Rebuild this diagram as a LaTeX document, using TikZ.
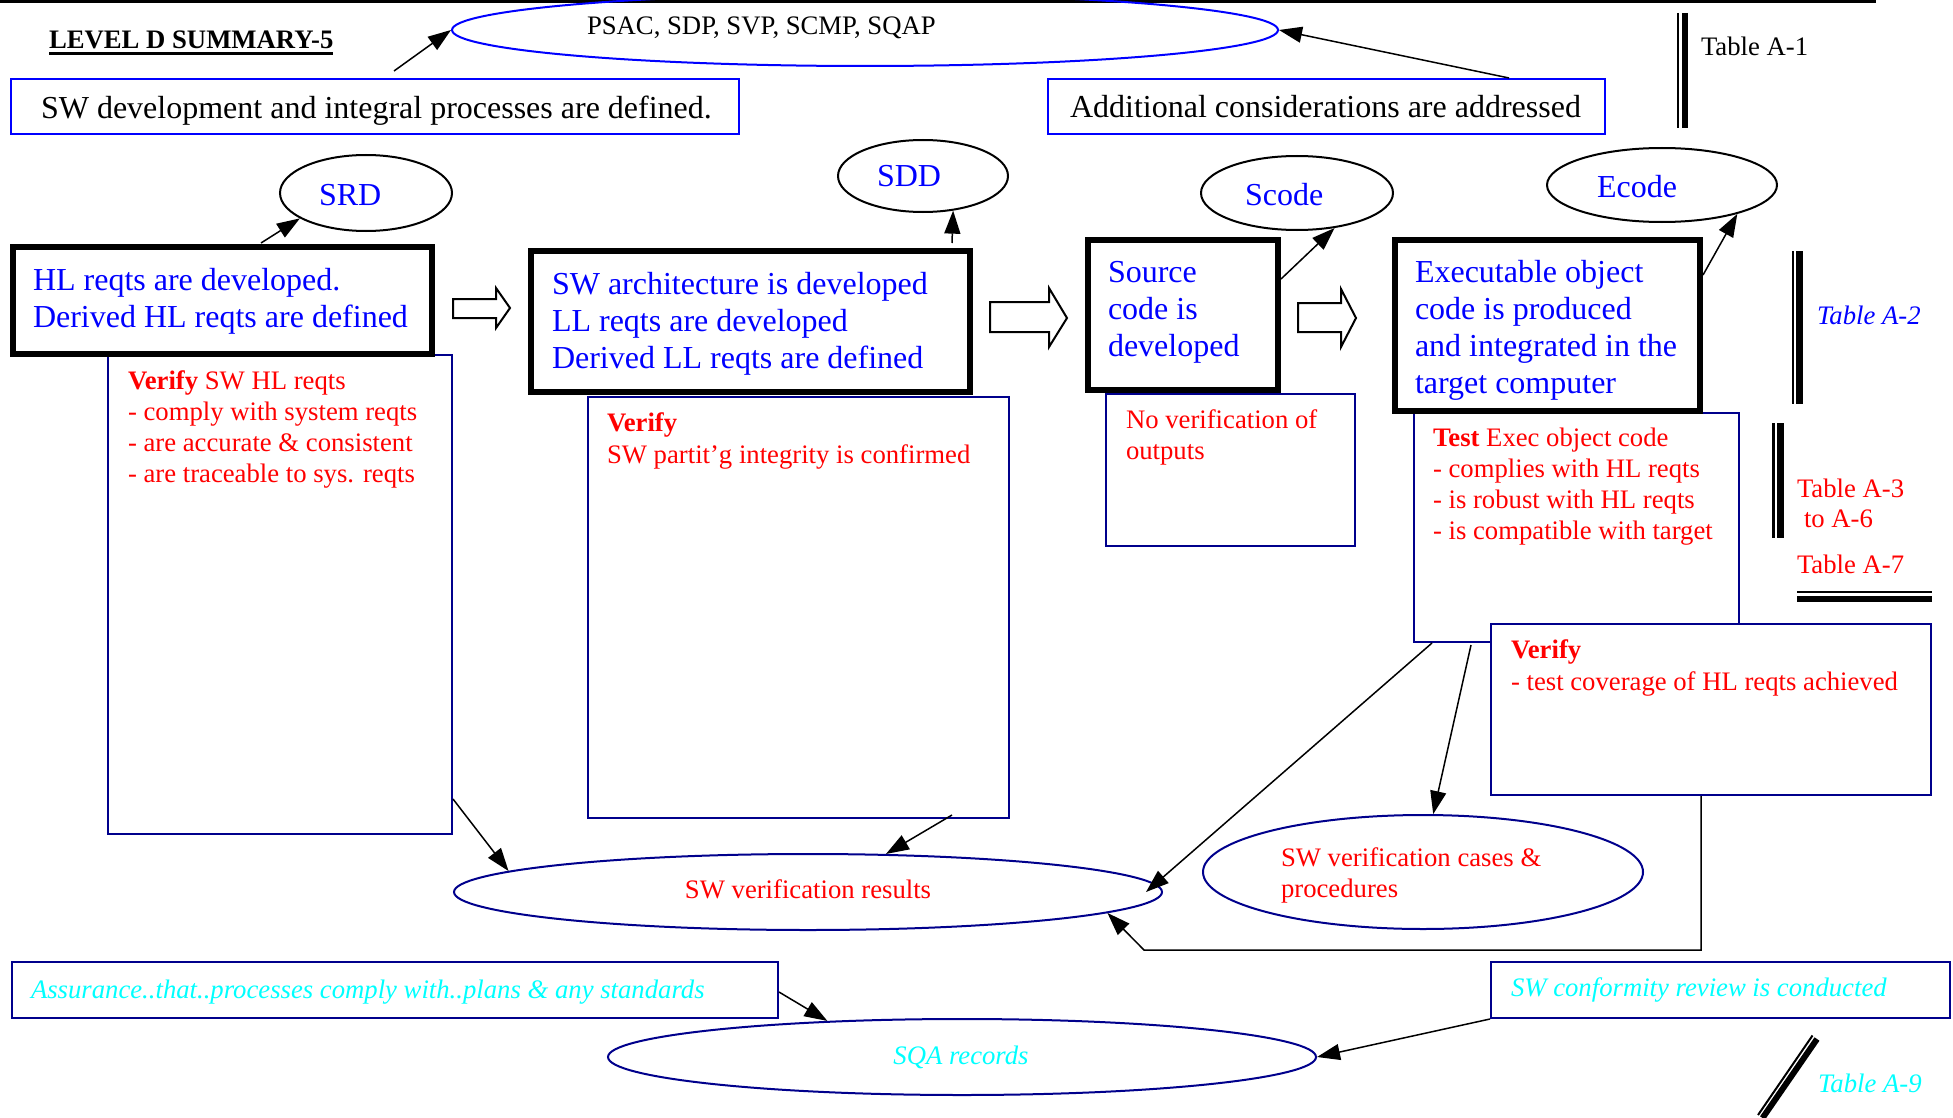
\documentclass[tikz,border=0pt]{standalone}
\usepackage{fontspec}
\setmainfont{Liberation Serif}
\usetikzlibrary{arrows.meta,shapes.geometric,calc}
\definecolor{pblue}{RGB}{0,0,255}
\definecolor{pnavy}{RGB}{0,0,140}
\definecolor{pred}{RGB}{255,0,0}
\definecolor{pcyan}{RGB}{0,255,255}
\newcommand\bigfs{\fontsize{32}{37}\selectfont}
\newcommand\smfs{\fontsize{26.7}{31}\selectfont}
\newcommand\bst{\rule{0pt}{30pt}}
\newcommand\sst{\rule{0pt}{25pt}}

\begin{document}
\begin{tikzpicture}[x=1pt,y=-1pt,
  stage/.style={draw=black,line width=6pt,rectangle,inner sep=0pt,anchor=north west},
  chkbox/.style={draw=pnavy,line width=2pt,rectangle,inner sep=0pt,anchor=north west},
  topbox/.style={draw=pblue,line width=2pt,rectangle,inner sep=0pt,anchor=north west},
  docoval/.style={ellipse,draw=black,line width=2pt,inner sep=0pt},
  recoval/.style={ellipse,draw=pnavy,line width=2pt,inner sep=0pt},
  lbl/.style={inner sep=0pt,outer sep=0pt,anchor=north west,align=left},
  one/.style={inner sep=0pt,outer sep=0pt,anchor=base west},
  conn/.style={line width=1.5pt,-{Triangle[length=23pt,width=16pt]}},
  blockarr/.style={draw=black,line width=2pt,fill=white,line join=miter},
]
\useasboundingbox (0,0) rectangle (1953,1118);

% heading rule and title
\draw[line width=3pt] (0,1.5) -- (1876,1.5);
\node[one,font=\smfs\bfseries] (title) at (49,49) {LEVEL D SUMMARY-5};
\draw[line width=2.5pt] ($(title.base west)+(0,4.5)$) -- ($(title.base east)+(0,4.5)$);

% planning
\node[ellipse,draw=pblue,line width=2pt,inner sep=0pt,minimum width=826pt,minimum height=72pt] (psac) at (865,30) {};
\node[one,font=\smfs] (psacT) at (587,35) {PSAC, SDP, SVP, SCMP, SQAP};
\node[topbox,minimum width=728pt,minimum height=55pt] (swdev) at (10,78) {};
\node[one,font=\bigfs] (swdevT) at (41,119) {SW development and integral processes are defined.};
\node[topbox,minimum width=557pt,minimum height=55pt] (addl) at (1047,78) {};
\node[one,font=\bigfs] (addlT) at (1070,118) {Additional considerations are addressed};

% verification boxes
\node[chkbox,minimum width=344pt,minimum height=479pt] (ver1) at (107,354) {};
\node[chkbox,minimum width=421pt,minimum height=421pt] (ver2) at (587,396) {};
\node[chkbox,minimum width=249pt,minimum height=152pt] (nover) at (1105,393) {};
\node[chkbox,minimum width=325pt,minimum height=229pt] (test) at (1413,412) {};
\node[chkbox,fill=white,minimum width=440pt,minimum height=171pt] (ver3) at (1490,623) {};

% development stages
\node[stage,minimum width=419pt,minimum height=107pt] (hl) at (10,244) {};
\node[stage,minimum width=439pt,minimum height=141pt] (arch) at (528,248) {};
\node[stage,minimum width=190pt,minimum height=150pt] (src) at (1085,237) {};
\node[stage,minimum width=305pt,minimum height=171pt] (exec) at (1392,237) {};

% stage outputs
\node[docoval,minimum width=172pt,minimum height=76pt] (srd) at (366,193) {};
\node[docoval,minimum width=170pt,minimum height=72pt] (sdd) at (923,176) {};
\node[docoval,minimum width=192pt,minimum height=74pt] (scode) at (1297,193) {};
\node[docoval,minimum width=230pt,minimum height=74pt] (ecode) at (1662,185) {};
\node[one,font=\bigfs,text=pblue] (srdT) at (319,205) {SRD};
\node[one,font=\bigfs,text=pblue] (sddT) at (877,187) {SDD};
\node[one,font=\bigfs,text=pblue] (scodeT) at (1245,205) {Scode};
\node[one,font=\bigfs,text=pblue] (ecodeT) at (1597,197) {Ecode};

% verification records
\node[recoval,minimum width=708pt,minimum height=76pt] (results) at (808,892) {};
\node[recoval,minimum width=440pt,minimum height=114pt] (cases) at (1423,872) {};
\node[recoval,minimum width=708pt,minimum height=76pt] (sqa) at (962,1057) {};
\node[inner sep=0pt,anchor=base,font=\smfs,text=pred] (resultsT) at (808,898) {SW verification results};
\node[lbl,font=\smfs,text=pred] (casesT) at (1281,841) {\sst SW verification cases \&\\procedures};
\node[inner sep=0pt,anchor=base,font=\smfs\itshape,text=pcyan] (sqaT) at (961,1064) {SQA records};

% quality assurance
\node[chkbox,minimum width=766pt,minimum height=56pt] (assur) at (11,961) {};
\node[one,font=\smfs\itshape,text=pcyan] (assurT) at (31,998) {Assurance..that..processes comply with..plans \& any standards};
\node[chkbox,minimum width=459pt,minimum height=56pt] (conf) at (1490,961) {};
\node[one,font=\smfs\itshape,text=pcyan] (confT) at (1511,996) {SW conformity review is conducted};

% stage texts
\node[lbl,font=\bigfs,text=pblue] (hlT) at (33,260) {\bst HL reqts are developed.\\Derived HL reqts are defined};
\node[lbl,font=\bigfs,text=pblue] (archT) at (552,264) {\bst SW architecture is developed\\LL reqts are developed\\Derived LL reqts are defined};
\node[lbl,font=\bigfs,text=pblue] (srcT) at (1108,252) {\bst Source\\code is\\developed};
\node[lbl,font=\bigfs,text=pblue] (execT) at (1415,252) {\bst Executable object\\code is produced\\and integrated in the\\target computer};

% verification texts
\node[lbl,font=\smfs,text=pred] (ver1T) at (128,364) {\sst{\bfseries Verify} SW HL reqts\\- comply with system reqts\\- are accurate \& consistent\\- are traceable to sys. reqts};
\node[lbl,font=\fontsize{26.7}{32}\selectfont,text=pred] (ver2T) at (607,406) {\sst{\bfseries Verify}\\SW partit’g integrity is confirmed};
\node[lbl,font=\smfs,text=pred] (noverT) at (1126,403) {\sst No verification of\\outputs};
\node[lbl,font=\smfs,text=pred] (testT) at (1433,421) {\sst{\bfseries Test} Exec object code\\- complies with HL reqts\\- is robust with HL reqts\\- is compatible with target};
\node[lbl,font=\fontsize{26.7}{32}\selectfont,text=pred] (ver3T) at (1511,633) {\sst{\bfseries Verify}\\- test coverage of HL reqts achieved};

% objective tables
\draw[line width=2pt] (1677.5,13) -- (1677.5,128);
\draw[line width=6pt] (1684.5,13) -- (1684.5,128);
\node[one,font=\smfs] (tA1) at (1701,56) {Table A-1};
\draw[line width=2pt] (1793,251) -- (1793,404);
\draw[line width=7pt] (1799.5,251) -- (1799.5,404);
\node[one,font=\smfs\itshape,text=pblue] (tA2) at (1817,324) {Table A-2};
\draw[line width=2.5pt] (1773.5,423) -- (1773.5,538);
\draw[line width=7pt] (1780.5,423) -- (1780.5,538);
\node[lbl,font=\fontsize{26.7}{30}\selectfont,text=pred] (tA3) at (1797,472) {\sst Table A-3\\\hspace*{7pt}to A-6};
\node[one,font=\smfs,text=pred] (tA7) at (1797,573) {Table A-7};
\draw[line width=2pt] (1797,592) -- (1932,592);
\draw[line width=6pt] (1797,599) -- (1932,599);
\draw[line width=2pt] (1812.5,1035.5) -- (1758,1115);
\draw[line width=6pt] (1817,1039) -- (1762.5,1118);
\node[one,font=\smfs\itshape,text=pcyan] (tA9) at (1818,1092) {Table A-9};

% flow between stages
\draw[blockarr] (453,299) -- (496,299) -- (496,288) -- (510,308) -- (496,328) -- (496,318) -- (453,318) -- cycle;
\draw[blockarr] (990,302) -- (1049,302) -- (1049,288) -- (1067,318) -- (1049,347) -- (1049,332) -- (990,332) -- cycle;
\draw[blockarr] (1298,303) -- (1341,303) -- (1341,289) -- (1356,318) -- (1341,347) -- (1341,332) -- (1298,332) -- cycle;

% connector ends
\coordinate (swdevTail) at (394,71);
\coordinate (addlTail) at (1509,78);
\coordinate (hlTail) at (261,243);
\coordinate (archTail) at (952,243);
\coordinate (srcTail) at (1281,279);
\coordinate (execTail) at (1703,275);
\coordinate (ver1Tail) at (453,799);
\coordinate (ver2Tail) at (952,815);
\coordinate (testTailA) at (1432,643);
\coordinate (testTailB) at (1471,645);
\coordinate (ver3Tail) at (1701,796);
\coordinate (bend) at (1144,950);
\coordinate (assurTail) at (779,992);

% connectors
\draw[conn] (swdevTail) -- (psac.west);
\draw[conn] (addlTail) -- (psac.east);
\draw[conn] (hlTail) -- (srd.201);
\draw[conn] (archTail) -- (sdd.-49);
\draw[conn] (srcTail) -- (scode.-43);
\draw[conn] (execTail) -- (ecode.-21);
\draw[conn] (ver1Tail) -- (results.176);
\draw[conn] (ver2Tail) -- (results.26);
\draw[conn] (testTailA) -- ($(results.east)+(-17,0)$);
\draw[conn] (testTailB) -- (cases.80);
\draw[conn] (ver3Tail) |- (bend) -- (results.-4);
\draw[conn] (assurTail) -- (sqa.165);
\draw[conn] (conf.south west) -- (sqa.east);
\end{tikzpicture}
\end{document}
